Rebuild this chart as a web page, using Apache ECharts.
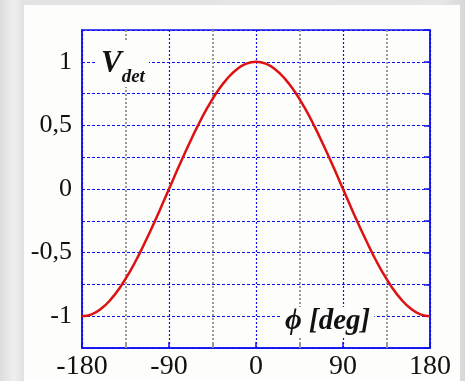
<!DOCTYPE html>
<html>
<head>
<meta charset="utf-8">
<script src="https://cdn.jsdelivr.net/npm/echarts@6/dist/echarts.min.js"></script>
<style>
  html, body { margin: 0; padding: 0; }
  body {
    width: 465px; height: 381px; position: relative; overflow: hidden;
    background: linear-gradient(90deg, #dcdcdc 0%, #efefef 3%, #e2e2e2 5%, #e6e6e6 95%, #d8d8d8 100%);
  }
  #panel { position: absolute; left: 24px; top: 5px; width: 436px; height: 376px; background: #fdfdfb; }
  #chart { position: absolute; left: 0; top: 0; width: 465px; height: 381px; }
</style>
</head>
<body>
<div id="panel"></div>
<div id="chart"></div>
<script>
// phase angle (deg) and detector voltage
const phi = [-180, -170, -160, -150, -140, -130, -120, -110, -100, -90, -80, -70, -60, -50, -40, -30, -20, -10, 0,
             10, 20, 30, 40, 50, 60, 70, 80, 90, 100, 110, 120, 130, 140, 150, 160, 170, 180];
const vdet = [-1, -0.985, -0.94, -0.866, -0.766, -0.643, -0.5, -0.342, -0.174, 0, 0.174, 0.342, 0.5, 0.643, 0.766, 0.866, 0.94, 0.985, 1,
              0.985, 0.94, 0.866, 0.766, 0.643, 0.5, 0.342, 0.174, 0, -0.174, -0.342, -0.5, -0.643, -0.766, -0.866, -0.94, -0.985, -1];
const xTicks = [-180, -90, 0, 90, 180];
const yTicks = [-1, -0.5, 0, 0.5, 1];

const blue = '#1010ee';
const gray = '#999999';
const serif = '"Liberation Serif", "DejaVu Serif", serif';

let myChart = echarts.init(document.getElementById('chart'));
let option = {
  animation: false,
  backgroundColor: 'transparent',
  grid: {
    left: 82, right: 35, top: 30, bottom: 33,
    show: true, borderColor: blue, borderWidth: 1.5, backgroundColor: 'transparent'
  },
  xAxis: {
    type: 'value', min: -180, max: 180, interval: 90,
    axisLine: { show: true, onZero: false, lineStyle: { color: blue, width: 1.5 } },
    axisTick: { show: true, inside: true, length: 6, lineStyle: { color: blue, width: 1.5 } },
    minorTick: { show: true, splitNumber: 2, length: 6, lineStyle: { color: gray, width: 2 } },
    axisLabel: {
      color: '#111', fontFamily: serif, fontSize: 28, margin: 5,
      formatter: v => xTicks.includes(v) ? String(v) : ''
    },
    splitLine: { show: true, lineStyle: { color: blue, type: [2, 2], width: 1.2 } },
    minorSplitLine: { show: true, lineStyle: { color: gray, type: [2, 2], width: 2 } }
  },
  yAxis: [{
    type: 'value', min: -1.25, max: 1.25, interval: 0.25,
    axisLine: { show: true, onZero: false, lineStyle: { color: blue, width: 1.5 } },
    axisTick: { show: false },
    axisLabel: {
      color: '#111', fontFamily: serif, fontSize: 26, margin: 10,
      formatter: v => {
        const t = yTicks.find(y => Math.abs(y - v) < 1e-9);
        return t === undefined ? '' : String(t).replace('.', ',');
      }
    },
    splitLine: { show: true, lineStyle: { color: blue, type: [3, 2], width: 1.2 } }
  }, {
    type: 'value', min: -1.25, max: 1.25, interval: 0.25, position: 'right',
    axisLine: { show: true, onZero: false, lineStyle: { color: blue, width: 1.5 } },
    axisTick: { show: true, inside: true, length: 6, lineStyle: { color: blue, width: 1.5 } },
    axisLabel: { show: false },
    splitLine: { show: false }
  }],
  graphic: [
    {
      type: 'text', left: 97, top: 40, z: 10,
      style: {
        text: '{v|V}{d|det}',
        backgroundColor: '#fdfdfb', padding: [0, 4, 0, 4],
        rich: {
          v: { fontFamily: serif, fontStyle: 'italic', fontWeight: 'bold', fontSize: 31, fill: '#111' },
          d: { fontFamily: serif, fontStyle: 'italic', fontWeight: 'bold', fontSize: 19, fill: '#111',
               verticalAlign: 'bottom', padding: [28, 0, 0, 0] }
        }
      }
    },
    {
      type: 'text', left: 281, top: 307, z: 10,
      style: {
        text: 'ϕ [deg]',
        backgroundColor: '#fdfdfb', padding: [0, 4, 0, 4],
        fontFamily: serif, fontStyle: 'italic', fontWeight: 'bold', fontSize: 29, fill: '#111'
      }
    }
  ],
  series: [{
    type: 'line',
    data: phi.map((p, i) => [p, vdet[i]]),
    smooth: true,
    symbol: 'none',
    lineStyle: { color: '#dd1111', width: 2.5 },
    z: 5
  }]
};
myChart.setOption(option);
</script>
</body>
</html>
